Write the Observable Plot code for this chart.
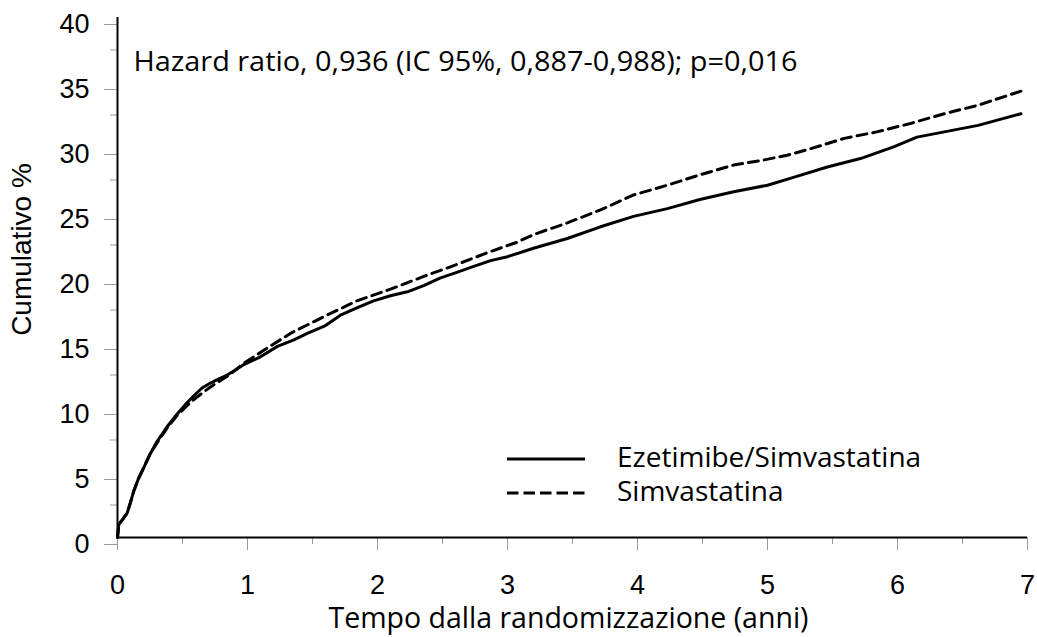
<!DOCTYPE html>
<html>
<head>
<meta charset="utf-8">
<script src="https://cdn.jsdelivr.net/npm/d3@7"></script>
<script src="https://cdn.jsdelivr.net/npm/@observablehq/plot@0.6"></script>
<style>
  html, body { margin: 0; padding: 0; background: #fff; }
  #wrap { position: relative; width: 1037px; height: 637px; }
  #legend { position: absolute; left: 0; top: 0; pointer-events: none; }
</style>
</head>
<body>
<div id="wrap"></div>
<script>
// ---- Data ----
const ezeTimes = [0, 0.01, 0.04, 0.075, 0.1, 0.126, 0.16, 0.203, 0.25, 0.305, 0.38, 0.459, 0.52, 0.587, 0.65, 0.718, 0.78, 0.844, 0.91, 0.972, 1.1, 1.23, 1.357, 1.46, 1.6, 1.715, 1.85, 1.97, 2.1, 2.23, 2.36, 2.48, 2.61, 2.74, 2.87, 3.0, 3.2, 3.46, 3.715, 3.97, 4.23, 4.48, 4.74, 5.0, 5.2, 5.46, 5.715, 5.97, 6.15, 6.36, 6.62, 6.95];
const ezeValues = [0, 1.0, 1.4, 1.9, 2.7, 3.6, 4.5, 5.4, 6.4, 7.4, 8.5, 9.5, 10.2, 10.9, 11.5, 11.9, 12.2, 12.5, 12.9, 13.3, 13.9, 14.7, 15.2, 15.7, 16.3, 17.1, 17.7, 18.2, 18.6, 18.9, 19.4, 19.95, 20.4, 20.85, 21.3, 21.6, 22.25, 23.0, 23.9, 24.7, 25.3, 26.0, 26.6, 27.1, 27.7, 28.5, 29.15, 30.05, 30.8, 31.2, 31.7, 32.6];

const simvTimes = [0, 0.01, 0.04, 0.075, 0.1, 0.126, 0.16, 0.203, 0.25, 0.305, 0.38, 0.459, 0.52, 0.587, 0.65, 0.718, 0.78, 0.844, 0.91, 0.972, 1.125, 1.33, 1.59, 1.84, 2.1, 2.36, 2.61, 2.87, 3.07, 3.2, 3.46, 3.715, 3.97, 4.23, 4.48, 4.74, 4.95, 5.15, 5.33, 5.59, 5.84, 6.1, 6.36, 6.62, 6.97];
const simvValues = [0, 1.0, 1.4, 1.9, 2.7, 3.6, 4.5, 5.4, 6.4, 7.3, 8.4, 9.4, 10.0, 10.6, 11.1, 11.6, 12.0, 12.4, 12.9, 13.4, 14.4, 15.7, 17.0, 18.2, 19.1, 20.1, 21.0, 22.0, 22.7, 23.3, 24.2, 25.2, 26.35, 27.1, 27.9, 28.65, 29.0, 29.4, 29.9, 30.7, 31.2, 31.85, 32.6, 33.25, 34.4];

const seriesNames = ["Ezetimibe/Simvastatina", "Simvastatina"];
const xMajorTicks = [0, 1, 2, 3, 4, 5, 6, 7];
const xMinorTicks = [0.5, 1.5, 2.5, 3.5, 4.5, 5.5, 6.5];
const yMajorTicks = [0, 5, 10, 15, 20, 25, 30, 35, 40];
const yMinorTicks = [2.5, 7.5, 12.5, 17.5, 22.5, 27.5, 32.5, 37.5];
const annotation = "Hazard ratio, 0,936 (IC 95%, 0,887-0,988); p=0,016";
const xTitle = "Tempo dalla randomizzazione (anni)";
const yTitle = "Cumulativo %";

// ---- Build rows ----
const ezeRows = ezeTimes.map((t, i) => ({t, v: ezeValues[i]}));
const simvRows = simvTimes.map((t, i) => ({t, v: simvValues[i]}));

const tickColor = "#9a9a9a";
const humanist = "'Open Sans', Lato, sans-serif";
const chart = Plot.plot({
  width: 1037,
  height: 637,
  marginLeft: 117,
  marginRight: 10,
  marginTop: 17,
  marginBottom: 100,
  x: {domain: [0, 7]},
  y: {domain: [0, 40]},
  style: {fontFamily: "'Liberation Sans', Arial, sans-serif", fontSize: "27px", color: "#000", background: "#fff", overflow: "visible"},
  marks: [
    Plot.axisX({ticks: xMinorTicks, tickSize: 7, tickFormat: () => "", stroke: tickColor, label: null}),
    Plot.axisX({ticks: xMajorTicks, tickSize: 13, tickPadding: 24, tickFormat: d => String(d), stroke: tickColor, label: null, fontSize: 27}),
    Plot.axisY({ticks: yMinorTicks, tickSize: 7, tickFormat: () => "", stroke: tickColor, label: null}),
    Plot.axisY({ticks: yMajorTicks, tickSize: 13, tickPadding: 15, dy: 7, tickFormat: d => String(d), stroke: tickColor, label: null, fontSize: 27}),
    Plot.ruleX([0], {stroke: "#000", strokeWidth: 2}),
    Plot.ruleY([0], {stroke: "#000", strokeWidth: 2}),
    Plot.line(simvRows, {x: "t", y: "v", stroke: "#000", strokeWidth: 3, strokeDasharray: "10,6"}),
    Plot.line(ezeRows, {x: "t", y: "v", stroke: "#000", strokeWidth: 3}),
    Plot.text([annotation], {text: d => d, frameAnchor: "top-left", textAnchor: "start", dx: 16, dy: 35, fontFamily: humanist, fontSize: 26.5}),
    Plot.text([yTitle], {text: d => d, frameAnchor: "left", textAnchor: "middle", rotate: -90, dx: -95, dy: -28, fontSize: 28}),
    Plot.text([xTitle], {text: d => d, frameAnchor: "bottom", textAnchor: "middle", dx: -4, dy: 90, fontFamily: humanist, fontSize: 28.5})
  ]
});

const wrap = document.getElementById("wrap");
wrap.appendChild(chart);

// widen the annotation to the reference's measured span
chart.querySelectorAll("text").forEach(t => {
  if (t.textContent === annotation) {
    t.setAttribute("textLength", 664);
    t.setAttribute("lengthAdjust", "spacingAndGlyphs");
  }
});

// ---- Legend (overlay) ----
const ns = "http://www.w3.org/2000/svg";
const leg = document.createElementNS(ns, "svg");
leg.setAttribute("id", "legend");
leg.setAttribute("width", 1037);
leg.setAttribute("height", 637);
const legendRows = [
  {name: seriesNames[0], dash: null, y: 459},
  {name: seriesNames[1], dash: "11.5,5", y: 493}
];
legendRows.forEach(r => {
  const ln = document.createElementNS(ns, "line");
  ln.setAttribute("x1", 507); ln.setAttribute("x2", 585);
  ln.setAttribute("y1", r.y); ln.setAttribute("y2", r.y);
  ln.setAttribute("stroke", "#000"); ln.setAttribute("stroke-width", 3);
  if (r.dash) ln.setAttribute("stroke-dasharray", r.dash);
  leg.appendChild(ln);
  const tx = document.createElementNS(ns, "text");
  tx.setAttribute("x", 617); tx.setAttribute("y", r.y - 2);
  tx.setAttribute("dy", "0.35em");
  tx.setAttribute("font-family", humanist);
  tx.setAttribute("font-size", 28);
  tx.textContent = r.name;
  leg.appendChild(tx);
});
wrap.appendChild(leg);
</script>
</body>
</html>
